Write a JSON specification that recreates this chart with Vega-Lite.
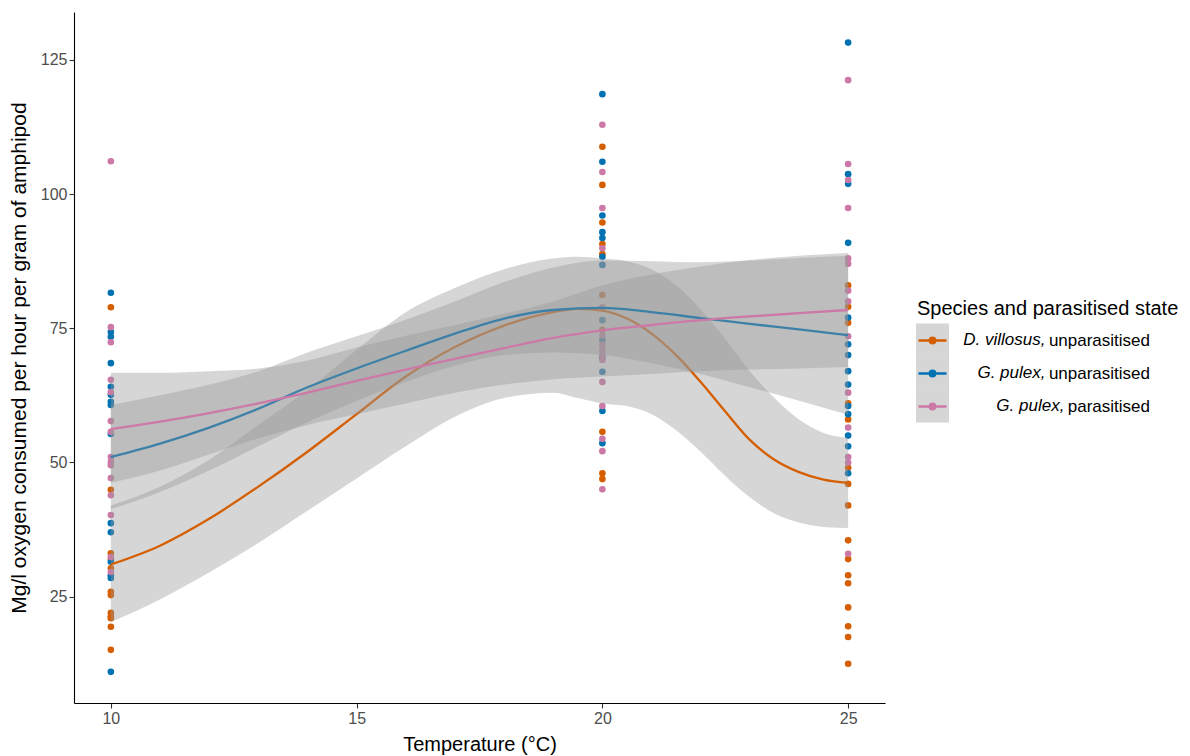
{
  "$schema": "https://vega.github.io/schema/vega-lite/v6.json",
  "width": 811,
  "height": 691,
  "autosize": {"type": "none"},
  "padding": {"left": 74, "top": 12, "right": 305, "bottom": 53},
  "background": "white",
  "config": {
    "view": {"stroke": null},
    "font": "Liberation Sans",
    "axis": {
      "grid": false,
      "domainColor": "#000000",
      "domainWidth": 1.1,
      "tickColor": "#333333",
      "tickWidth": 1.1,
      "tickSize": 5,
      "labelColor": "#4d4d4d",
      "labelFontSize": 16,
      "labelPadding": 2,
      "titleFontSize": 20,
      "titleFontWeight": "normal",
      "titleColor": "#000000"
    },
    "axisX": {"titlePadding": 8},
    "axisY": {"titlePadding": 11, "titleFontSize": 21}
  },
  "datasets": {
    "pts": [
      {"temp": 10, "rate": 78.9, "group": "D. villosus, unparasitised"},
      {"temp": 10, "rate": 44.9, "group": "D. villosus, unparasitised"},
      {"temp": 10, "rate": 33.1, "group": "D. villosus, unparasitised"},
      {"temp": 10, "rate": 32.0, "group": "D. villosus, unparasitised"},
      {"temp": 10, "rate": 30.3, "group": "D. villosus, unparasitised"},
      {"temp": 10, "rate": 25.9, "group": "D. villosus, unparasitised"},
      {"temp": 10, "rate": 25.3, "group": "D. villosus, unparasitised"},
      {"temp": 10, "rate": 22.0, "group": "D. villosus, unparasitised"},
      {"temp": 10, "rate": 21.3, "group": "D. villosus, unparasitised"},
      {"temp": 10, "rate": 21.0, "group": "D. villosus, unparasitised"},
      {"temp": 10, "rate": 19.4, "group": "D. villosus, unparasitised"},
      {"temp": 10, "rate": 15.1, "group": "D. villosus, unparasitised"},
      {"temp": 10, "rate": 81.6, "group": "G. pulex, unparasitised"},
      {"temp": 10, "rate": 74.3, "group": "G. pulex, unparasitised"},
      {"temp": 10, "rate": 73.4, "group": "G. pulex, unparasitised"},
      {"temp": 10, "rate": 68.5, "group": "G. pulex, unparasitised"},
      {"temp": 10, "rate": 64.1, "group": "G. pulex, unparasitised"},
      {"temp": 10, "rate": 62.6, "group": "G. pulex, unparasitised"},
      {"temp": 10, "rate": 61.3, "group": "G. pulex, unparasitised"},
      {"temp": 10, "rate": 60.7, "group": "G. pulex, unparasitised"},
      {"temp": 10, "rate": 55.3, "group": "G. pulex, unparasitised"},
      {"temp": 10, "rate": 38.7, "group": "G. pulex, unparasitised"},
      {"temp": 10, "rate": 37.0, "group": "G. pulex, unparasitised"},
      {"temp": 10, "rate": 31.5, "group": "G. pulex, unparasitised"},
      {"temp": 10, "rate": 29.0, "group": "G. pulex, unparasitised"},
      {"temp": 10, "rate": 28.5, "group": "G. pulex, unparasitised"},
      {"temp": 10, "rate": 11.0, "group": "G. pulex, unparasitised"},
      {"temp": 10, "rate": 106.1, "group": "G. pulex, parasitised"},
      {"temp": 10, "rate": 75.2, "group": "G. pulex, parasitised"},
      {"temp": 10, "rate": 72.4, "group": "G. pulex, parasitised"},
      {"temp": 10, "rate": 65.4, "group": "G. pulex, parasitised"},
      {"temp": 10, "rate": 63.1, "group": "G. pulex, parasitised"},
      {"temp": 10, "rate": 57.7, "group": "G. pulex, parasitised"},
      {"temp": 10, "rate": 55.7, "group": "G. pulex, parasitised"},
      {"temp": 10, "rate": 51.0, "group": "G. pulex, parasitised"},
      {"temp": 10, "rate": 50.1, "group": "G. pulex, parasitised"},
      {"temp": 10, "rate": 49.5, "group": "G. pulex, parasitised"},
      {"temp": 10, "rate": 47.1, "group": "G. pulex, parasitised"},
      {"temp": 10, "rate": 43.9, "group": "G. pulex, parasitised"},
      {"temp": 10, "rate": 40.2, "group": "G. pulex, parasitised"},
      {"temp": 10, "rate": 32.4, "group": "G. pulex, parasitised"},
      {"temp": 10, "rate": 29.6, "group": "G. pulex, parasitised"},
      {"temp": 20, "rate": 108.8, "group": "D. villosus, unparasitised"},
      {"temp": 20, "rate": 101.7, "group": "D. villosus, unparasitised"},
      {"temp": 20, "rate": 94.7, "group": "D. villosus, unparasitised"},
      {"temp": 20, "rate": 90.7, "group": "D. villosus, unparasitised"},
      {"temp": 20, "rate": 88.8, "group": "D. villosus, unparasitised"},
      {"temp": 20, "rate": 81.2, "group": "D. villosus, unparasitised"},
      {"temp": 20, "rate": 74.7, "group": "D. villosus, unparasitised"},
      {"temp": 20, "rate": 55.7, "group": "D. villosus, unparasitised"},
      {"temp": 20, "rate": 48.0, "group": "D. villosus, unparasitised"},
      {"temp": 20, "rate": 46.9, "group": "D. villosus, unparasitised"},
      {"temp": 20, "rate": 118.6, "group": "G. pulex, unparasitised"},
      {"temp": 20, "rate": 106.0, "group": "G. pulex, unparasitised"},
      {"temp": 20, "rate": 96.0, "group": "G. pulex, unparasitised"},
      {"temp": 20, "rate": 92.9, "group": "G. pulex, unparasitised"},
      {"temp": 20, "rate": 91.8, "group": "G. pulex, unparasitised"},
      {"temp": 20, "rate": 88.3, "group": "G. pulex, unparasitised"},
      {"temp": 20, "rate": 86.8, "group": "G. pulex, unparasitised"},
      {"temp": 20, "rate": 76.5, "group": "G. pulex, unparasitised"},
      {"temp": 20, "rate": 72.8, "group": "G. pulex, unparasitised"},
      {"temp": 20, "rate": 69.5, "group": "G. pulex, unparasitised"},
      {"temp": 20, "rate": 66.9, "group": "G. pulex, unparasitised"},
      {"temp": 20, "rate": 59.6, "group": "G. pulex, unparasitised"},
      {"temp": 20, "rate": 53.6, "group": "G. pulex, unparasitised"},
      {"temp": 20, "rate": 112.9, "group": "G. pulex, parasitised"},
      {"temp": 20, "rate": 104.1, "group": "G. pulex, parasitised"},
      {"temp": 20, "rate": 97.4, "group": "G. pulex, parasitised"},
      {"temp": 20, "rate": 89.9, "group": "G. pulex, parasitised"},
      {"temp": 20, "rate": 78.9, "group": "G. pulex, parasitised"},
      {"temp": 20, "rate": 73.7, "group": "G. pulex, parasitised"},
      {"temp": 20, "rate": 71.9, "group": "G. pulex, parasitised"},
      {"temp": 20, "rate": 70.9, "group": "G. pulex, parasitised"},
      {"temp": 20, "rate": 70.0, "group": "G. pulex, parasitised"},
      {"temp": 20, "rate": 69.1, "group": "G. pulex, parasitised"},
      {"temp": 20, "rate": 65.0, "group": "G. pulex, parasitised"},
      {"temp": 20, "rate": 60.5, "group": "G. pulex, parasitised"},
      {"temp": 20, "rate": 54.4, "group": "G. pulex, parasitised"},
      {"temp": 20, "rate": 52.1, "group": "G. pulex, parasitised"},
      {"temp": 20, "rate": 45.0, "group": "G. pulex, parasitised"},
      {"temp": 25, "rate": 83.0, "group": "D. villosus, unparasitised"},
      {"temp": 25, "rate": 79.0, "group": "D. villosus, unparasitised"},
      {"temp": 25, "rate": 76.0, "group": "D. villosus, unparasitised"},
      {"temp": 25, "rate": 61.0, "group": "D. villosus, unparasitised"},
      {"temp": 25, "rate": 58.0, "group": "D. villosus, unparasitised"},
      {"temp": 25, "rate": 49.0, "group": "D. villosus, unparasitised"},
      {"temp": 25, "rate": 46.0, "group": "D. villosus, unparasitised"},
      {"temp": 25, "rate": 42.0, "group": "D. villosus, unparasitised"},
      {"temp": 25, "rate": 35.5, "group": "D. villosus, unparasitised"},
      {"temp": 25, "rate": 32.0, "group": "D. villosus, unparasitised"},
      {"temp": 25, "rate": 29.0, "group": "D. villosus, unparasitised"},
      {"temp": 25, "rate": 27.5, "group": "D. villosus, unparasitised"},
      {"temp": 25, "rate": 23.0, "group": "D. villosus, unparasitised"},
      {"temp": 25, "rate": 19.5, "group": "D. villosus, unparasitised"},
      {"temp": 25, "rate": 17.5, "group": "D. villosus, unparasitised"},
      {"temp": 25, "rate": 12.5, "group": "D. villosus, unparasitised"},
      {"temp": 25, "rate": 128.2, "group": "G. pulex, unparasitised"},
      {"temp": 25, "rate": 103.7, "group": "G. pulex, unparasitised"},
      {"temp": 25, "rate": 101.9, "group": "G. pulex, unparasitised"},
      {"temp": 25, "rate": 90.9, "group": "G. pulex, unparasitised"},
      {"temp": 25, "rate": 77.0, "group": "G. pulex, unparasitised"},
      {"temp": 25, "rate": 72.0, "group": "G. pulex, unparasitised"},
      {"temp": 25, "rate": 70.0, "group": "G. pulex, unparasitised"},
      {"temp": 25, "rate": 67.0, "group": "G. pulex, unparasitised"},
      {"temp": 25, "rate": 64.5, "group": "G. pulex, unparasitised"},
      {"temp": 25, "rate": 60.5, "group": "G. pulex, unparasitised"},
      {"temp": 25, "rate": 59.0, "group": "G. pulex, unparasitised"},
      {"temp": 25, "rate": 55.0, "group": "G. pulex, unparasitised"},
      {"temp": 25, "rate": 53.0, "group": "G. pulex, unparasitised"},
      {"temp": 25, "rate": 48.0, "group": "G. pulex, unparasitised"},
      {"temp": 25, "rate": 121.2, "group": "G. pulex, parasitised"},
      {"temp": 25, "rate": 105.6, "group": "G. pulex, parasitised"},
      {"temp": 25, "rate": 102.6, "group": "G. pulex, parasitised"},
      {"temp": 25, "rate": 97.4, "group": "G. pulex, parasitised"},
      {"temp": 25, "rate": 88.0, "group": "G. pulex, parasitised"},
      {"temp": 25, "rate": 87.0, "group": "G. pulex, parasitised"},
      {"temp": 25, "rate": 82.0, "group": "G. pulex, parasitised"},
      {"temp": 25, "rate": 80.0, "group": "G. pulex, parasitised"},
      {"temp": 25, "rate": 73.5, "group": "G. pulex, parasitised"},
      {"temp": 25, "rate": 63.0, "group": "G. pulex, parasitised"},
      {"temp": 25, "rate": 56.5, "group": "G. pulex, parasitised"},
      {"temp": 25, "rate": 51.0, "group": "G. pulex, parasitised"},
      {"temp": 25, "rate": 50.0, "group": "G. pulex, parasitised"},
      {"temp": 25, "rate": 33.0, "group": "G. pulex, parasitised"}
    ],
    "fit": [
      {"group": "D. villosus, unparasitised", "temp": 10, "fit": 31, "lo": 20.3, "hi": 42},
      {"group": "D. villosus, unparasitised", "temp": 11, "fit": 34.5, "lo": 24.5, "hi": 45.5},
      {"group": "D. villosus, unparasitised", "temp": 12, "fit": 39.5, "lo": 29.5, "hi": 50.5},
      {"group": "D. villosus, unparasitised", "temp": 13, "fit": 45.5, "lo": 35, "hi": 57},
      {"group": "D. villosus, unparasitised", "temp": 14, "fit": 52, "lo": 41, "hi": 63.5},
      {"group": "D. villosus, unparasitised", "temp": 15, "fit": 59, "lo": 47, "hi": 71},
      {"group": "D. villosus, unparasitised", "temp": 16, "fit": 66, "lo": 53, "hi": 78},
      {"group": "D. villosus, unparasitised", "temp": 17, "fit": 71.5, "lo": 58.5, "hi": 82.5},
      {"group": "D. villosus, unparasitised", "temp": 18, "fit": 75.5, "lo": 62, "hi": 86},
      {"group": "D. villosus, unparasitised", "temp": 19, "fit": 78, "lo": 63, "hi": 88},
      {"group": "D. villosus, unparasitised", "temp": 19.5, "fit": 78.6, "lo": 62, "hi": 88.3},
      {"group": "D. villosus, unparasitised", "temp": 20, "fit": 78.3, "lo": 61, "hi": 88},
      {"group": "D. villosus, unparasitised", "temp": 20.5, "fit": 76.8, "lo": 60.5, "hi": 87.5},
      {"group": "D. villosus, unparasitised", "temp": 21, "fit": 74, "lo": 59, "hi": 86},
      {"group": "D. villosus, unparasitised", "temp": 21.5, "fit": 70, "lo": 56, "hi": 83},
      {"group": "D. villosus, unparasitised", "temp": 22, "fit": 65, "lo": 52, "hi": 78.5},
      {"group": "D. villosus, unparasitised", "temp": 22.5, "fit": 59.5, "lo": 47.5, "hi": 73},
      {"group": "D. villosus, unparasitised", "temp": 23, "fit": 54.2, "lo": 43.5, "hi": 67},
      {"group": "D. villosus, unparasitised", "temp": 23.5, "fit": 50.5, "lo": 40.5, "hi": 62},
      {"group": "D. villosus, unparasitised", "temp": 24, "fit": 48.2, "lo": 38.8, "hi": 58},
      {"group": "D. villosus, unparasitised", "temp": 24.5, "fit": 46.8, "lo": 38, "hi": 55.5},
      {"group": "D. villosus, unparasitised", "temp": 25, "fit": 46.2, "lo": 37.8, "hi": 54.6},
      {"group": "G. pulex, unparasitised", "temp": 10, "fit": 51, "lo": 41.3, "hi": 60.7},
      {"group": "G. pulex, unparasitised", "temp": 11, "fit": 53.5, "lo": 44.5, "hi": 62.5},
      {"group": "G. pulex, unparasitised", "temp": 12, "fit": 56.5, "lo": 48.5, "hi": 64.5},
      {"group": "G. pulex, unparasitised", "temp": 13, "fit": 60, "lo": 53, "hi": 67},
      {"group": "G. pulex, unparasitised", "temp": 14, "fit": 64, "lo": 57.5, "hi": 70.5},
      {"group": "G. pulex, unparasitised", "temp": 15, "fit": 67.5, "lo": 61.5, "hi": 73.5},
      {"group": "G. pulex, unparasitised", "temp": 16, "fit": 70.8, "lo": 65, "hi": 76.6},
      {"group": "G. pulex, unparasitised", "temp": 17, "fit": 74, "lo": 68, "hi": 80},
      {"group": "G. pulex, unparasitised", "temp": 18, "fit": 76.8, "lo": 70, "hi": 83.6},
      {"group": "G. pulex, unparasitised", "temp": 19, "fit": 78.4, "lo": 70.5, "hi": 86.3},
      {"group": "G. pulex, unparasitised", "temp": 20, "fit": 78.8, "lo": 70, "hi": 87.6},
      {"group": "G. pulex, unparasitised", "temp": 21, "fit": 78, "lo": 68.5, "hi": 87.5},
      {"group": "G. pulex, unparasitised", "temp": 22, "fit": 76.9, "lo": 66.5, "hi": 87.3},
      {"group": "G. pulex, unparasitised", "temp": 23, "fit": 75.8, "lo": 64, "hi": 87.6},
      {"group": "G. pulex, unparasitised", "temp": 24, "fit": 74.8, "lo": 61.5, "hi": 88.1},
      {"group": "G. pulex, unparasitised", "temp": 25, "fit": 73.7, "lo": 58.9, "hi": 88.5},
      {"group": "G. pulex, parasitised", "temp": 10, "fit": 56.2, "lo": 46.2, "hi": 66.7},
      {"group": "G. pulex, parasitised", "temp": 11, "fit": 57.6, "lo": 48.5, "hi": 66.7},
      {"group": "G. pulex, parasitised", "temp": 12, "fit": 59.2, "lo": 51.5, "hi": 67},
      {"group": "G. pulex, parasitised", "temp": 13, "fit": 61, "lo": 54.5, "hi": 67.5},
      {"group": "G. pulex, parasitised", "temp": 14, "fit": 63, "lo": 57, "hi": 69},
      {"group": "G. pulex, parasitised", "temp": 15, "fit": 65.2, "lo": 59, "hi": 71.4},
      {"group": "G. pulex, parasitised", "temp": 16, "fit": 67.3, "lo": 61, "hi": 73.6},
      {"group": "G. pulex, parasitised", "temp": 17, "fit": 69.3, "lo": 63, "hi": 75.6},
      {"group": "G. pulex, parasitised", "temp": 18, "fit": 71.3, "lo": 64.5, "hi": 77.7},
      {"group": "G. pulex, parasitised", "temp": 19, "fit": 73.2, "lo": 65.5, "hi": 80},
      {"group": "G. pulex, parasitised", "temp": 20, "fit": 74.6, "lo": 66, "hi": 83},
      {"group": "G. pulex, parasitised", "temp": 21, "fit": 75.6, "lo": 66.5, "hi": 85},
      {"group": "G. pulex, parasitised", "temp": 22, "fit": 76.5, "lo": 67, "hi": 86.5},
      {"group": "G. pulex, parasitised", "temp": 23, "fit": 77.2, "lo": 67.3, "hi": 87.7},
      {"group": "G. pulex, parasitised", "temp": 24, "fit": 77.8, "lo": 67.5, "hi": 88.5},
      {"group": "G. pulex, parasitised", "temp": 25, "fit": 78.4, "lo": 67.8, "hi": 89}
    ]
  },
  "layer": [
    {
      "data": {"name": "pts"},
      "mark": {"type": "point", "filled": true, "size": 44, "opacity": 1},
      "encoding": {
        "x": {
          "field": "temp", "type": "quantitative",
          "scale": {"domain": [9.25, 25.75], "nice": false, "zero": false},
          "axis": {"values": [10, 15, 20, 25], "title": "Temperature (°C)"}
        },
        "y": {
          "field": "rate", "type": "quantitative",
          "scale": {"domain": [5.2, 133.9], "nice": false, "zero": false},
          "axis": {"values": [25, 50, 75, 100, 125], "title": "Mg/l oxygen consumed per hour per gram of amphipod"}
        },
        "color": {
          "field": "group", "type": "nominal",
          "scale": {
            "domain": ["D. villosus, unparasitised", "G. pulex, unparasitised", "G. pulex, parasitised"],
            "range": ["#D55E00", "#0072B2", "#CC79A7"]
          },
          "legend": {
            "orient": "none", "legendX": 843, "legendY": 287, "zindex": 1, "padding": 0,
            "title": "Species and parasitised state", "titleLimit": 500,
            "titleFontSize": 20, "titleFontWeight": "normal", "titleColor": "#000000", "titlePadding": 6,
            "symbolType": "M-1,0L1,0M-0.2,0A0.2,0.2,0,1,1,0.2,0A0.2,0.2,0,1,1,-0.2,0Z",
            "symbolSize": 784, "symbolStrokeWidth": 2.3, "rowPadding": 9,
            "labelAlign": "right", "labelOffset": 202, "labelFontSize": 17, "labelColor": "#000000", "labelLimit": 400,
            "labelExpr": "split(datum.label, ', ')[1]",
            "encode": {"symbols": {"update": {
              "fill": {"scale": "color", "field": "value"},
              "stroke": {"scale": "color", "field": "value"},
              "opacity": {"value": 1}
            }}}
          }
        }
      }
    },
    {
      "data": {"name": "fit"},
      "transform": [{"filter": {"field": "group", "equal": "D. villosus, unparasitised"}}],
      "mark": {"type": "area", "opacity": 0.4, "interpolate": "monotone"},
      "encoding": {
        "x": {"field": "temp", "type": "quantitative"},
        "y": {"field": "lo", "type": "quantitative"},
        "y2": {"field": "hi"},
        "fill": {
          "field": "group", "type": "nominal",
          "scale": {
            "domain": ["G. pulex, parasitised", "G. pulex, unparasitised", "D. villosus, unparasitised"],
            "range": ["#999999", "#999999", "#999999"]
          },
          "legend": {
            "orient": "none", "legendX": 842, "legendY": 311.5, "zindex": 0, "padding": 0,
            "title": null,
            "values": ["D. villosus, unparasitised", "G. pulex, unparasitised", "G. pulex, parasitised"],
            "symbolType": "square", "symbolSize": 1089, "symbolOpacity": 0.4, "symbolStrokeWidth": 0, "rowPadding": 0,
            "labelAlign": "right", "labelOffset": 96.5, "labelFontSize": 17, "labelFontStyle": "italic",
            "labelColor": "#000000", "labelLimit": 400,
            "labelExpr": "split(datum.label, ',')[0] + ','",
            "encode": {"labels": {"update": {
              "dx": {"signal": "datum.value == 'G. pulex, parasitised' ? 18.9 : 0"}
            }}}
          }
        }
      }
    },
    {
      "data": {"name": "fit"},
      "transform": [{"filter": {"field": "group", "equal": "D. villosus, unparasitised"}}],
      "mark": {"type": "line", "strokeWidth": 2.3, "interpolate": "monotone"},
      "encoding": {
        "x": {"field": "temp", "type": "quantitative"},
        "y": {"field": "fit", "type": "quantitative"},
        "color": {"field": "group", "type": "nominal"}
      }
    },
    {
      "data": {"name": "fit"},
      "transform": [{"filter": {"field": "group", "equal": "G. pulex, unparasitised"}}],
      "mark": {"type": "area", "opacity": 0.4, "interpolate": "monotone"},
      "encoding": {
        "x": {"field": "temp", "type": "quantitative"},
        "y": {"field": "lo", "type": "quantitative"},
        "y2": {"field": "hi"},
        "fill": {"field": "group", "type": "nominal"}
      }
    },
    {
      "data": {"name": "fit"},
      "transform": [{"filter": {"field": "group", "equal": "G. pulex, unparasitised"}}],
      "mark": {"type": "line", "strokeWidth": 2.3, "interpolate": "monotone"},
      "encoding": {
        "x": {"field": "temp", "type": "quantitative"},
        "y": {"field": "fit", "type": "quantitative"},
        "color": {"field": "group", "type": "nominal"}
      }
    },
    {
      "data": {"name": "fit"},
      "transform": [{"filter": {"field": "group", "equal": "G. pulex, parasitised"}}],
      "mark": {"type": "area", "opacity": 0.4, "interpolate": "monotone"},
      "encoding": {
        "x": {"field": "temp", "type": "quantitative"},
        "y": {"field": "lo", "type": "quantitative"},
        "y2": {"field": "hi"},
        "fill": {"field": "group", "type": "nominal"}
      }
    },
    {
      "data": {"name": "fit"},
      "transform": [{"filter": {"field": "group", "equal": "G. pulex, parasitised"}}],
      "mark": {"type": "line", "strokeWidth": 2.3, "interpolate": "monotone"},
      "encoding": {
        "x": {"field": "temp", "type": "quantitative"},
        "y": {"field": "fit", "type": "quantitative"},
        "color": {"field": "group", "type": "nominal"}
      }
    }
  ]
}
